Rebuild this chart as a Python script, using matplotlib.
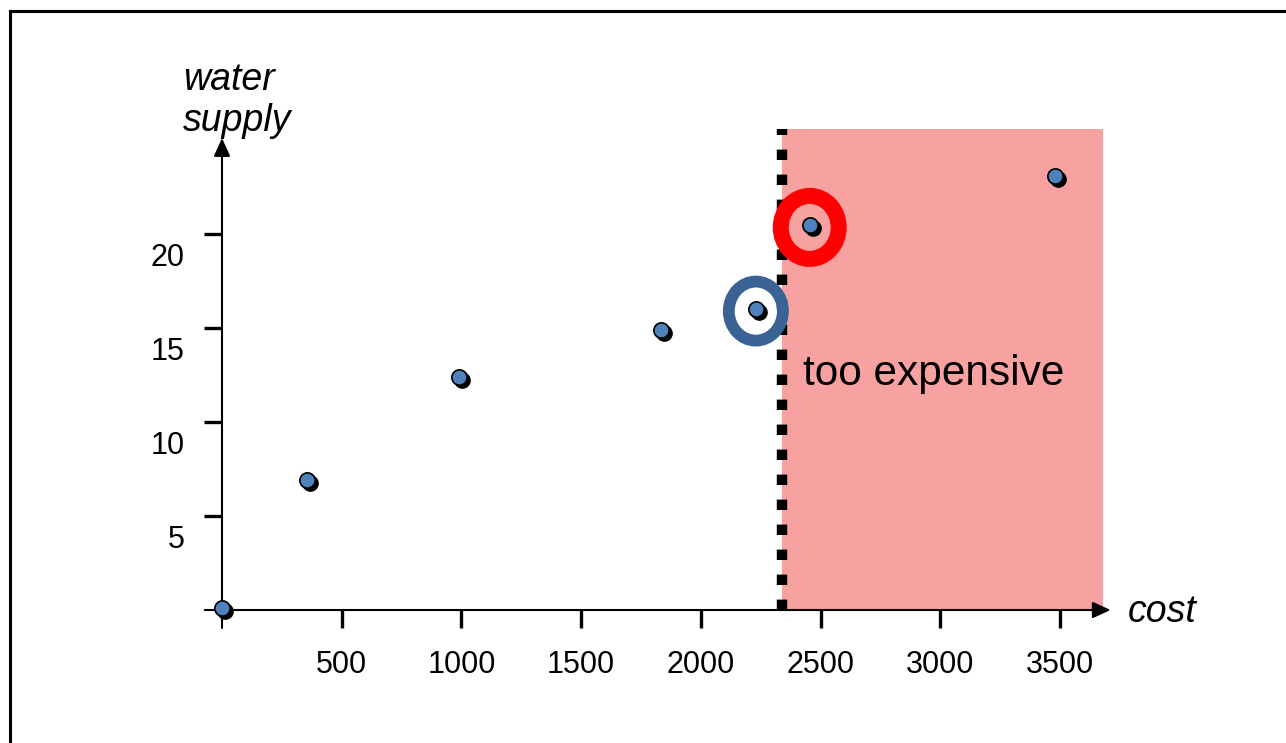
import matplotlib.pyplot as plt
from matplotlib.patches import Ellipse
from matplotlib.lines import Line2D
from matplotlib.transforms import ScaledTranslation

plt.rcParams['font.family'] = ['Liberation Sans', 'DejaVu Sans']

cost = [0, 355, 990, 1835, 2230, 2455, 3480]
water = [0.1, 6.9, 12.4, 14.9, 16.0, 20.5, 23.1]
xticks = [500, 1000, 1500, 2000, 2500, 3000, 3500]
yticks = [5, 10, 15, 20]
budget = 2340
region_right = 3680
region_top = 25.6
blue_pick = 4
red_pick = 5

fig = plt.figure(figsize=(12.86, 7.43), dpi=100)
ax = fig.add_axes([0, 0, 1, 1])
ax.set_xlim(-927.3, 4444.4)
ax.set_ylim(-7.074, 32.447)
for s in ['top', 'right']:
    ax.spines[s].set_visible(False)
ax.spines['left'].set_position(('data', 0))
ax.spines['bottom'].set_position(('data', 0))
ax.spines['left'].set_color('none')
ax.spines['bottom'].set_color('none')
ax.patch.set_visible(False)

# outer frame
fig.add_artist(Line2D([10, 10, 1300], [-10, 732, 732], transform=None,
                      color='black', lw=2.2, solid_joinstyle='miter'))

# too expensive region
ax.fill_between([budget, region_right], 0, region_top, color='#f7a1a0', lw=0, zorder=0)
ax.plot([budget, budget], [0, region_top], color='black', lw=7.5,
        dashes=[1, 1.4], solid_capstyle='butt', dash_capstyle='butt', zorder=2)

# axes with arrows
arrow = dict(arrowstyle='-|>,head_length=1.1,head_width=0.5',
             color='black', lw=1.5, shrinkA=0, shrinkB=0)
ax.annotate('', xy=(3712, 0), xytext=(-72, 0), arrowprops=arrow)
ax.annotate('', xy=(0, 25.1), xytext=(0, -0.96), arrowprops=arrow)

ax.set_xticks(xticks)
ax.set_yticks(yticks)
ax.set_xticklabels([str(t) for t in xticks])
ax.set_yticklabels([str(t) for t in yticks])
ax.tick_params(axis='both', direction='out', length=13, width=2.4,
               labelsize=22, colors='black')
ax.tick_params(axis='x', pad=16)
ax.tick_params(axis='y', pad=14)
shift = ScaledTranslation(0, -0.20, fig.dpi_scale_trans)
for lbl in ax.get_yticklabels():
    lbl.set_transform(lbl.get_transform() + shift)

# points with shadow
shadow = ax.transData + ScaledTranslation(0.03, -0.03, fig.dpi_scale_trans)
ax.plot(cost, water, 'o', color='black', ms=11, transform=shadow, zorder=4)
ax.plot(cost, water, 'o', color='#4f81bd', mec='black', mew=1.2, ms=11, zorder=5)

# highlight rings
ax.add_patch(Ellipse((cost[blue_pick], water[blue_pick] - 0.1), 226, 3.14,
                     fill=False, ec='#3a6294', lw=8.5, zorder=3))
ax.add_patch(Ellipse((cost[red_pick], water[red_pick] - 0.15), 242, 3.35,
                     fill=False, ec='#ff0000', lw=11.5, zorder=3))

ax.text(2427, 11.97, 'too expensive', fontsize=30.5, va='baseline', ha='left', zorder=6)
ax.text(-163, 27.66, 'water', fontsize=27, style='italic', va='baseline', ha='left')
ax.text(-163, 25.48, 'supply', fontsize=27, style='italic', va='baseline', ha='left')
ax.text(3785, -0.64, 'cost', fontsize=27, style='italic', va='baseline', ha='left')

fig.savefig('out.png', dpi=100)
